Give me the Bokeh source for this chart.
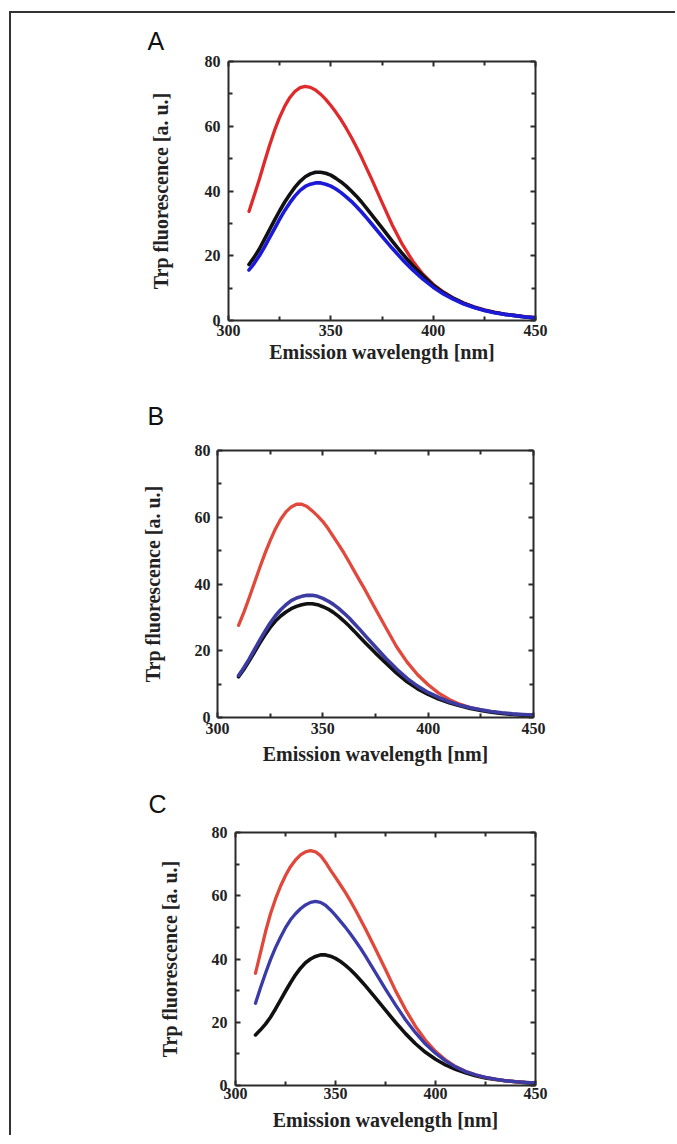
from bokeh.plotting import figure
from bokeh.models import FixedTicker, LinearAxis, Range1d, Title
from bokeh.layouts import column
from bokeh.embed import file_html
from bokeh.resources import INLINE

# ---------------- data ----------------
wavelength = [310, 312.5, 315, 317.5, 320, 322.5, 325, 327.5, 330, 332.5, 335, 337.5,
              340, 342.5, 345, 347.5, 350, 352.5, 355, 357.5, 360, 362.5, 365, 367.5,
              370, 375, 380, 385, 390, 395, 400, 405, 410, 415, 420, 425, 430, 435,
              440, 445, 450]

a_red = [33.7, 38.5, 43.5, 48.8, 54.0, 58.7, 62.8, 66.2, 68.9, 70.8, 71.9, 72.3,
         72.0, 71.2, 69.9, 68.3, 66.4, 64.3, 62.0, 59.4, 56.6, 53.6, 50.4, 47.0,
         43.6, 36.5, 29.5, 23.4, 18.4, 14.3, 11.2, 8.8, 6.9, 5.4, 4.2, 3.3, 2.6, 2.0,
         1.6, 1.2, 0.9]
a_black = [17.3, 19.5, 22.0, 25.0, 28.0, 31.0, 33.9, 36.6, 39.0, 41.2, 43.0, 44.4,
           45.3, 45.8, 45.8, 45.5, 44.9, 43.9, 42.8, 41.5, 40.0, 38.4, 36.6, 34.6,
           32.6, 28.6, 24.5, 20.6, 17.0, 13.9, 10.9, 8.6, 6.8, 5.3, 4.1, 3.2, 2.5, 1.9,
           1.5, 1.1, 0.8]
a_blue = [15.6, 17.6, 19.9, 22.6, 25.5, 28.4, 31.3, 34.0, 36.4, 38.5, 40.2, 41.4,
          42.1, 42.5, 42.5, 42.1, 41.5, 40.6, 39.5, 38.2, 36.8, 35.2, 33.5, 31.7,
          29.8, 26.0, 22.3, 18.8, 15.6, 12.8, 10.3, 8.2, 6.5, 5.1, 4.0, 3.1, 2.4, 1.9,
          1.5, 1.1, 0.8]

b_red = [27.6, 31.5, 35.8, 40.3, 44.8, 49.1, 53.0, 56.5, 59.4, 61.6, 63.1, 63.9,
         63.9, 63.2, 61.9, 60.4, 58.7, 56.6, 54.2, 51.8, 49.3, 46.6, 43.8, 41.0,
         38.3, 32.5, 26.8, 21.2, 16.6, 12.8, 9.8, 7.3, 5.4, 4.0, 3.0, 2.3, 1.7, 1.3,
         1.0, 0.8, 0.6]
b_black = [12.2, 14.4, 16.9, 19.5, 22.2, 24.7, 27.0, 28.9, 30.4, 31.6, 32.6, 33.3,
           33.8, 34.1, 34.1, 33.8, 33.2, 32.5, 31.5, 30.3, 28.9, 27.4, 25.8, 24.1,
           22.5, 19.3, 16.3, 13.3, 10.7, 8.6, 6.9, 5.5, 4.4, 3.5, 2.7, 2.1, 1.6, 1.2,
           0.9, 0.7, 0.5]
b_blue = [12.6, 14.9, 17.5, 20.3, 23.1, 25.8, 28.3, 30.5, 32.3, 33.8, 35.0, 35.8,
          36.3, 36.6, 36.6, 36.3, 35.7, 34.9, 33.9, 32.7, 31.3, 29.8, 28.1, 26.4,
          24.6, 21.1, 17.7, 14.5, 11.7, 9.4, 7.5, 6.0, 4.7, 3.7, 2.9, 2.3, 1.8, 1.4,
          1.1, 0.9, 0.7]

c_red = [35.5, 42.0, 48.6, 54.3, 59.0, 63.0, 66.4, 69.2, 71.3, 72.9, 73.9, 74.3,
         73.9, 72.7, 70.6, 68.1, 65.8, 63.4, 61.0, 58.3, 55.5, 52.5, 49.5, 46.3,
         43.2, 36.7, 30.0, 24.0, 18.7, 14.3, 10.8, 8.1, 6.0, 4.5, 3.4, 2.6, 2.0, 1.5,
         1.2, 1.0, 0.8]
c_blue = [26.0, 30.9, 35.5, 39.8, 43.6, 46.9, 49.9, 52.4, 54.3, 55.9, 57.1, 57.9,
          58.2, 57.9, 57.0, 55.5, 53.8, 51.9, 50.0, 47.9, 45.7, 43.4, 40.9, 38.3,
          35.7, 30.5, 25.5, 20.8, 16.7, 13.1, 10.2, 7.8, 5.9, 4.4, 3.4, 2.6, 2.0, 1.5,
          1.2, 1.0, 0.8]
c_black = [16.0, 17.6, 19.4, 21.6, 24.2, 27.0, 29.8, 32.5, 35.0, 37.1, 38.8, 40.0,
           40.8, 41.3, 41.3, 40.9, 40.2, 39.2, 38.0, 36.6, 35.0, 33.3, 31.5, 29.6,
           27.7, 23.8, 20.0, 16.4, 13.2, 10.5, 8.3, 6.5, 5.1, 4.0, 3.1, 2.4, 1.9, 1.5,
           1.2, 0.9, 0.7]

x_ticks = [300, 350, 400, 450]
x_minor = [325, 375, 425]
y_ticks = [0, 20, 40, 60, 80]
y_minor = [10, 30, 50, 70]

x_label = "Emission wavelength [nm]"
y_label = "Trp fluorescence [a. u.]"

SERIF = "Liberation Serif"
AXC = "#2b2b2b"
FIG_W = 664
LEFT = 206   # common left border; panels are shifted with a CSS margin


def style_axis(ax):
    ax.axis_line_color = AXC
    ax.axis_line_width = 2
    ax.major_tick_line_color = AXC
    ax.major_tick_line_width = 2
    ax.minor_tick_line_color = AXC
    ax.minor_tick_line_width = 2
    ax.major_tick_in = 5
    ax.major_tick_out = 0
    ax.minor_tick_in = 4
    ax.minor_tick_out = 0
    ax.major_label_text_font = SERIF
    ax.major_label_text_font_style = "bold"
    ax.major_label_text_font_size = "16px"
    ax.major_label_text_color = "#222222"
    ax.axis_label_text_font = SERIF
    ax.axis_label_text_font_style = "bold"
    ax.axis_label_text_font_size = "20px"
    ax.axis_label_text_color = "#222222"


def make_panel(letter, series, shift, top, fw, fh, bottom, title_off, title_stand,
               ytick_stand, ylab_stand, xtick_stand, xlab_stand):
    p = figure(output_backend="svg", toolbar_location=None,
               frame_width=fw, frame_height=fh,
               min_border_left=LEFT, min_border_top=top,
               min_border_bottom=bottom, min_border_right=FIG_W - shift - LEFT - fw,
               margin=(0, 0, 0, shift),
               x_range=Range1d(300, 450), y_range=Range1d(0, 80),
               background_fill_color="white", border_fill_color="white")
    p.outline_line_color = None
    p.grid.visible = False

    p.xaxis.ticker = FixedTicker(ticks=x_ticks, minor_ticks=x_minor)
    p.yaxis.ticker = FixedTicker(ticks=y_ticks, minor_ticks=y_minor)
    p.xaxis.axis_label = x_label
    p.yaxis.axis_label = y_label
    for ax in (p.xaxis[0], p.yaxis[0]):
        style_axis(ax)
    p.xaxis.major_label_standoff = xtick_stand
    p.yaxis.major_label_standoff = ytick_stand
    p.xaxis.axis_label_standoff = xlab_stand
    p.yaxis.axis_label_standoff = ylab_stand

    top_ax = LinearAxis(ticker=FixedTicker(ticks=x_ticks, minor_ticks=x_minor),
                        major_label_overrides={t: "" for t in x_ticks})
    right_ax = LinearAxis(ticker=FixedTicker(ticks=y_ticks, minor_ticks=y_minor),
                          major_label_overrides={t: "" for t in y_ticks})
    for ax in (top_ax, right_ax):
        style_axis(ax)
        ax.major_label_standoff = 0
    p.add_layout(top_ax, "above")
    p.add_layout(right_ax, "right")

    for ys, col, lw in series:
        p.line(wavelength, ys, line_color=col, line_width=lw,
               line_join="round", line_cap="round")

    t = Title(text=letter, align="left", offset=title_off, standoff=title_stand,
              text_font="Liberation Sans", text_font_size="25px",
              text_font_style="normal", text_color="#111111")
    p.add_layout(t, "above")
    return p


pa = make_panel("A",
                [(a_red, "#e0292b", 3.3), (a_black, "#111111", 3.6), (a_blue, "#1a1ad8", 3.6)],
                shift=11, top=48, fw=307, fh=259, bottom=56,
                title_off=-81, title_stand=13,
                ytick_stand=8, ylab_stand=30, xtick_stand=4, xlab_stand=2)
pb = make_panel("B",
                [(b_red, "#e0493b", 3.3), (b_black, "#111111", 3.6), (b_blue, "#3b3ba2", 3.6)],
                shift=0, top=74, fw=316, fh=267, bottom=53,
                title_off=-70, title_stand=41,
                ytick_stand=7, ylab_stand=28, xtick_stand=5, xlab_stand=6)
pc = make_panel("C",
                [(c_black, "#111111", 3.6), (c_red, "#e0483c", 3.3), (c_blue, "#3a3aa8", 3.3)],
                shift=18, top=62, fw=300, fh=253, bottom=50,
                title_off=-87, title_stand=29,
                ytick_stand=8, ylab_stand=28, xtick_stand=2, xlab_stand=7)

layout = column(pa, pb, pc, spacing=0, margin=(11, 0, 0, 9),
                styles={"border-top": "2px solid #333333",
                        "border-left": "2px solid #333333"})

open("out.html", "w").write(file_html(layout, INLINE))
